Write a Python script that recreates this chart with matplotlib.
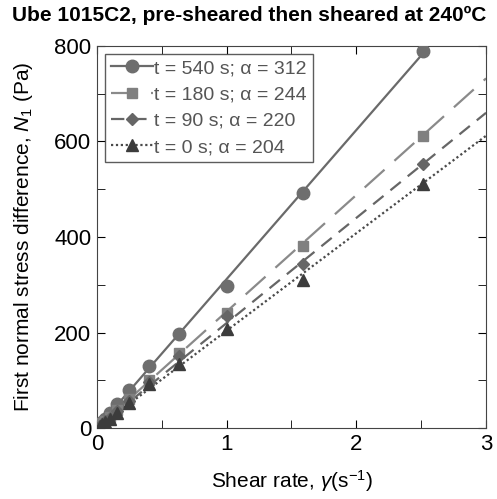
import numpy as np
import matplotlib
matplotlib.use("Agg")
import matplotlib.pyplot as plt
from matplotlib.ticker import MultipleLocator

plt.rcParams['font.family'] = ['Liberation Sans', 'DejaVu Sans']
plt.rcParams['mathtext.fontset'] = 'custom'
plt.rcParams['mathtext.rm'] = 'Liberation Sans'
plt.rcParams['mathtext.it'] = 'Liberation Sans:italic'

# shear rates (1/s)
gamma = [0.0251, 0.0398, 0.0631, 0.1, 0.158, 0.251, 0.398, 0.631, 1.0, 1.585, 2.512]

# N1 (Pa) for each pre-shear time
n1_540 = [8, 12, 20, 31, 50, 80, 131, 197, 297, 492, 790]
n1_180 = [6, 10, 15, 24, 38, 62, 100, 158, 240, 382, 612]
n1_90 = [5, 8, 14, 22, 35, 56, 97, 150, 235, 343, 553]
n1_0 = [5, 8, 13, 20, 32, 52, 92, 135, 208, 310, 510]

alphas = [312, 244, 220, 204]
labels = ["t = 540 s; α = 312", "t = 180 s; α = 244", "t = 90 s; α = 220", "t = 0 s; α = 204"]
fit_end = [2.512, 3.0, 3.0, 3.0]

series = [n1_540, n1_180, n1_90, n1_0]
styles = [
    dict(ls='-', marker='o', color='#6a6a6a', mfc='#6e6e6e', ms=9, lw=1.6),
    dict(ls=(0, (12, 6)), marker='s', color='#8a8a8a', mfc='#808080', ms=7.5, lw=1.6),
    dict(ls=(0, (6, 4)), marker='D', color='#666666', mfc='#666666', ms=6.5, lw=1.6),
    dict(ls=(0, (1, 1.2)), marker='^', color='#4a4a4a', mfc='#3c3c3c', ms=8, lw=1.6),
]

fig = plt.figure(figsize=(4.97, 4.99), dpi=100)
ax = fig.add_axes([0.195, 0.142, 0.783, 0.766])

for y, a, lab, xe, st in zip(series, alphas, labels, fit_end, styles):
    xf = np.array([0.0, xe])
    ax.plot(xf, a * xf, ls=st['ls'], color=st['color'], lw=st['lw'], zorder=2)
    ax.plot(gamma, y, ls='none', marker=st['marker'], color=st['mfc'],
            mec=st['mfc'], ms=st['ms'], zorder=3)
    ax.plot([], [], ls=st['ls'], marker=st['marker'], color=st['color'],
            mfc=st['mfc'], mec=st['mfc'], ms=st['ms'], lw=st['lw'], label=lab)

ax.set_xlim(0, 3)
ax.set_ylim(0, 800)
ax.xaxis.set_major_locator(MultipleLocator(1))
ax.xaxis.set_minor_locator(MultipleLocator(0.5))
ax.yaxis.set_major_locator(MultipleLocator(200))
ax.yaxis.set_minor_locator(MultipleLocator(100))
ax.tick_params(which='both', direction='in', top=True, right=True, labelsize=16, pad=4)
ax.tick_params(which='major', length=6)
ax.tick_params(which='minor', length=6)
for s in ax.spines.values():
    s.set_color('#444444')

ax.set_xlabel(r"Shear rate, $\mathit{\gamma}$(s$^{-1}$)", fontsize=15, labelpad=10)
ax.set_ylabel(r"First normal stress difference, $\mathit{N}_1$ (Pa)", fontsize=15, labelpad=14)

leg = ax.legend(loc='upper left', fontsize=14, frameon=True, fancybox=False,
                edgecolor='#333333', handlelength=2.2, handletextpad=0.05,
                borderpad=0.3, labelspacing=0.45, borderaxespad=0.4)
leg.get_frame().set_linewidth(1.0)
for t in leg.get_texts():
    t.set_color('#555555')

fig.text(0.024, 0.988, "Ube 1015C2, pre-sheared then sheared at 240ºC",
         fontsize=15, fontweight='bold', ha='left', va='top')

fig.savefig("out.png", dpi=100)
